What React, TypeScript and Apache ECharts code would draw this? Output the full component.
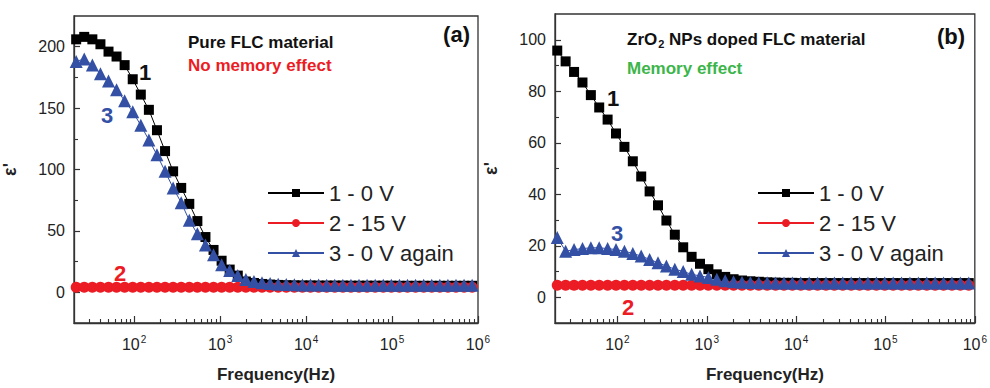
import React, { useEffect, useRef } from "react";
import * as echarts from "echarts";

// Frequencies (Hz) of the measured points
const freqHz = [
  21.2, 26.3, 32.7, 40.6, 50.4, 62.5, 77.6, 96.4, 119.7, 148.6,
  184.5, 229.1, 284.4, 353.2, 438.5, 544.5, 676.1, 839.5, 1042, 1294,
  1607, 1995, 2477, 3076, 3819, 4742, 5888, 7311, 9078, 11272,
  13996, 17378, 21577, 26792, 33266, 41305, 51286, 63680, 79068, 98175,
  121900, 151360, 187932, 233346, 289734, 359749, 446684, 554626, 688652, 855067,
];

// Panel (a): Pure FLC material
const leftCurve1 = [
  206, 208, 206, 202, 196, 192, 185, 173.5, 161, 148.6,
  132, 115, 98.5, 85, 72, 58, 45, 34.5, 25.7, 18.5,
  13.6, 8.8, 7.6, 6.8, 6.3, 6.0, 5.8, 5.7, 5.6, 5.6,
  5.5, 5.5, 5.5, 5.5, 5.4, 5.4, 5.4, 5.4, 5.4, 5.4,
  5.3, 5.3, 5.3, 5.3, 5.3, 5.3, 5.3, 5.3, 5.3, 5.3,
];
const leftCurve2 = [
  4.2, 4.2, 4.2, 4.2, 4.2, 4.2, 4.2, 4.2, 4.2, 4.2,
  4.2, 4.2, 4.2, 4.2, 4.2, 4.2, 4.2, 4.2, 4.2, 4.2,
  4.2, 4.2, 4.2, 4.2, 4.2, 4.2, 4.2, 4.2, 4.2, 4.2,
  4.2, 4.2, 4.2, 4.2, 4.2, 4.2, 4.2, 4.2, 4.2, 4.2,
  4.2, 4.2, 4.2, 4.2, 4.2, 4.2, 4.2, 4.2, 4.2, 4.2,
];
const leftCurve3 = [
  188, 190, 185, 178, 172, 165, 156, 147, 136, 124,
  112, 98.5, 85, 73, 58.6, 47.6, 38.5, 30.5, 22.5, 17.7,
  13.6, 10.4, 8.8, 7.8, 7.1, 6.6, 6.3, 6.1, 6.0, 5.9,
  5.9, 5.8, 5.8, 5.8, 5.8, 5.8, 5.8, 5.8, 5.8, 5.8,
  5.8, 5.8, 5.8, 5.8, 5.8, 5.8, 5.8, 5.8, 5.8, 5.8,
];

// Panel (b): ZrO2 NPs doped FLC material
const rightCurve1 = [
  95.8, 91.6, 87.5, 83.4, 78.5, 73.7, 69, 63.6, 58.4, 52.8,
  46.9, 41.1, 35.7, 29.8, 24.3, 19.4, 15.7, 13, 10.9, 8.9,
  7.9, 7, 6.5, 6.2, 6.0, 5.8, 5.7, 5.6, 5.6, 5.5,
  5.5, 5.5, 5.5, 5.5, 5.5, 5.5, 5.5, 5.5, 5.5, 5.5,
  5.5, 5.5, 5.5, 5.5, 5.5, 5.5, 5.5, 5.5, 5.5, 5.5,
];
const rightCurve2 = [
  4.7, 4.7, 4.7, 4.7, 4.7, 4.7, 4.7, 4.7, 4.7, 4.7,
  4.7, 4.7, 4.7, 4.7, 4.7, 4.7, 4.7, 4.7, 4.7, 4.7,
  4.7, 4.7, 4.7, 4.7, 4.7, 4.7, 4.7, 4.7, 4.7, 4.7,
  4.7, 4.7, 4.7, 4.7, 4.7, 4.7, 4.7, 4.7, 4.7, 4.7,
  4.7, 4.7, 4.7, 4.7, 4.7, 4.7, 4.7, 4.7, 4.7, 4.7,
];
const rightCurve3 = [
  23.2, 17.9, 18.5, 18.9, 19.2, 19.2, 18.9, 18.5, 17.9, 17,
  16, 14.7, 13.4, 12.1, 10.9, 10, 8.9, 8.3, 7.7, 7,
  6.4, 6, 5.8, 5.7, 5.6, 5.6, 5.5, 5.5, 5.5, 5.5,
  5.5, 5.5, 5.5, 5.5, 5.5, 5.5, 5.5, 5.5, 5.5, 5.5,
  5.5, 5.5, 5.5, 5.5, 5.5, 5.5, 5.5, 5.5, 5.5, 5.5,
];

const seriesNames = ["1 - 0 V", "2 - 15 V", "3 - 0 V again"];
const decadeExponents = [2, 3, 4, 5, 6];
const leftYLabels = [0, 50, 100, 150, 200];
const leftYMinor = [25, 75, 125, 175];
const rightYLabels = [0, 20, 40, 60, 80, 100];
const rightYMinor = [10, 30, 50, 70, 90];

const FREQ_MIN = 20;
const FREQ_MAX = 1e6;

const FONT = '"Liberation Sans", Arial, Helvetica, sans-serif';
const BLACK = "#000000";
const RED = "#ec1c24";
const BLUE = "#3350a5";
const GREEN = "#3cb54a";
const AXIS = "#333333";

const minorLogTicks = (): number[] => {
  const out: number[] = [];
  const lo = Math.log10(FREQ_MIN);
  for (let n = 1; n <= 5; n++) {
    for (let m = 2; m <= 9; m++) {
      const v = Math.log10(m * Math.pow(10, n));
      if (v > lo + 1e-6) out.push(v);
    }
  }
  return out;
};

const pts = (xs: number[], ys: number[]) => xs.map((f, i) => [Math.log10(f), ys[i]]);

export default function App() {
  const ref = useRef<HTMLDivElement>(null);

  useEffect(() => {
    if (!ref.current) return;
    const chart = echarts.init(ref.current, undefined, { renderer: "svg" });
    const xmin = Math.log10(FREQ_MIN);
    const xmax = Math.log10(FREQ_MAX);
    const minor = minorLogTicks();

    const xMajor = (grid: number) => ({
      type: "value",
      gridIndex: grid,
      position: "bottom",
      min: xmin,
      max: xmax,
      axisLine: { show: true, onZero: false, lineStyle: { color: AXIS, width: 1.3 } },
      axisTick: {
        show: true,
        inside: true,
        length: 7,
        customValues: decadeExponents,
        lineStyle: { color: AXIS, width: 1.2 },
      },
      axisLabel: {
        show: true,
        customValues: decadeExponents,
        margin: 11,
        formatter: (v: number) => `{b|10}{s|${Math.round(v)}}`,
        rich: {
          b: { fontSize: 16, color: "#222", fontFamily: FONT, verticalAlign: "bottom" },
          s: { fontSize: 10, color: "#222", fontFamily: FONT, verticalAlign: "bottom", padding: [0, 0, 8, 1] },
        },
      },
      splitLine: { show: false },
      name: "Frequency(Hz)",
      nameLocation: "middle",
      nameGap: 43,
      nameTextStyle: { fontSize: 17, fontWeight: "bold", color: "#222", fontFamily: FONT },
    });
    const xMinor = (grid: number) => ({
      type: "value",
      gridIndex: grid,
      position: "bottom",
      min: xmin,
      max: xmax,
      axisLine: { show: false, onZero: false },
      axisTick: {
        show: true,
        inside: true,
        length: 4,
        customValues: minor,
        lineStyle: { color: AXIS, width: 1.1 },
      },
      axisLabel: { show: false },
      splitLine: { show: false },
    });
    const yMajor = (grid: number, min: number, max: number, labels: number[]) => ({
      type: "value",
      gridIndex: grid,
      position: "left",
      min,
      max,
      axisLine: { show: true, onZero: false, lineStyle: { color: AXIS, width: 1.3 } },
      axisTick: {
        show: true,
        inside: true,
        length: 6,
        customValues: labels,
        lineStyle: { color: AXIS, width: 1.2 },
      },
      axisLabel: {
        show: true,
        customValues: labels,
        margin: 9,
        fontSize: 16,
        color: "#222",
        fontFamily: FONT,
      },
      splitLine: { show: false },
      name: "ε'",
      nameLocation: "middle",
      nameRotate: 90,
      nameGap: 55,
      nameTextStyle: { fontSize: 18, fontWeight: "bold", color: "#222", fontFamily: FONT },
    });
    const yMinor = (grid: number, min: number, max: number, ticks: number[]) => ({
      type: "value",
      gridIndex: grid,
      position: "left",
      min,
      max,
      axisLine: { show: false, onZero: false },
      axisTick: {
        show: true,
        inside: true,
        length: 4,
        customValues: ticks,
        lineStyle: { color: AXIS, width: 1.1 },
      },
      axisLabel: { show: false },
      splitLine: { show: false },
    });

    const mkSeries = (
      name: string,
      xi: number,
      yi: number,
      data: number[][],
      color: string,
      symbol: string,
      size: number
    ) => ({
      type: "line",
      name,
      xAxisIndex: xi,
      yAxisIndex: yi,
      data,
      symbol,
      symbolSize: size,
      showSymbol: true,
      itemStyle: { color },
      lineStyle: { color, width: 1 },
      emphasis: { disabled: true },
    });

    const legendBase = {
      orient: "vertical",
      top: 177,
      itemWidth: 56,
      itemHeight: 10,
      itemGap: 8,
      selectedMode: false,
      data: seriesNames,
      textStyle: { fontSize: 22, color: "#222", fontFamily: FONT },
    };

    const txt = (
      text: string,
      x: number,
      y: number,
      color: string,
      size: number,
      align: string = "left",
      extra: any = {}
    ) => ({
      type: "text",
      x,
      y,
      style: {
        text,
        fill: color,
        fontSize: size,
        fontWeight: "bold",
        fontFamily: FONT,
        textAlign: align,
        textVerticalAlign: "middle",
        ...extra,
      },
      z: 10,
    });

    chart.setOption({
      animation: false,
      backgroundColor: "#ffffff",
      textStyle: { fontFamily: FONT },
      grid: [
        { left: 73, top: 16, width: 405, height: 313, show: true, borderColor: AXIS, borderWidth: 1.3, backgroundColor: "transparent" },
        { left: 555, top: 14, width: 423, height: 312, show: true, borderColor: AXIS, borderWidth: 1.3, backgroundColor: "transparent" },
      ],
      xAxis: [xMajor(0), xMinor(0), xMajor(1), xMinor(1)],
      yAxis: [
        yMajor(0, -25, 225, leftYLabels),
        yMinor(0, -25, 225, leftYMinor),
        yMajor(1, -10, 110, rightYLabels),
        yMinor(1, -10, 110, rightYMinor),
      ],
      legend: [
        { ...legendBase, left: 262 },
        { ...legendBase, left: 752 },
      ],
      series: [
        mkSeries(seriesNames[0], 0, 0, pts(freqHz, leftCurve1), BLACK, "rect", 10),
        mkSeries(seriesNames[1], 0, 0, pts(freqHz, leftCurve2), RED, "circle", 11),
        mkSeries(seriesNames[2], 0, 0, pts(freqHz, leftCurve3), BLUE, "triangle", 13),
        mkSeries(seriesNames[0], 2, 2, pts(freqHz, rightCurve1), BLACK, "rect", 10),
        mkSeries(seriesNames[1], 2, 2, pts(freqHz, rightCurve2), RED, "circle", 11),
        mkSeries(seriesNames[2], 2, 2, pts(freqHz, rightCurve3), BLUE, "triangle", 13),
      ],
      graphic: [
        txt("Pure FLC material", 188, 42, "#111", 17),
        txt("No memory effect", 188, 65, RED, 17),
        txt("(a)", 470, 34, "#111", 22, "right"),
        txt("1", 145, 72, "#111", 22, "center"),
        txt("3", 107, 115, BLUE, 22, "center"),
        txt("2", 120, 273, RED, 22, "center"),
        txt("{m|ZrO}{sub|2}{m| NPs doped FLC material}", 627, 40, "#111", 17, "left", {
          rich: {
            m: { fontSize: 17, fontWeight: "bold", fontFamily: FONT, fill: "#111", verticalAlign: "top" },
            sub: { fontSize: 11, fontWeight: "bold", fontFamily: FONT, fill: "#111", verticalAlign: "top", padding: [8, 0, 0, 1] },
          },
        }),
        txt("Memory effect", 627, 68, GREEN, 17),
        txt("(b)", 965, 36, "#111", 22, "right"),
        txt("1", 613, 98, "#111", 22, "center"),
        txt("3", 617, 233, BLUE, 22, "center"),
        txt("2", 628, 307, RED, 22, "center"),
      ],
    });

    return () => chart.dispose();
  }, []);

  return (
    <div
      ref={ref}
      style={{ position: "fixed", left: 0, top: 0, width: 990, height: 388, background: "#fff" }}
    />
  );
}
